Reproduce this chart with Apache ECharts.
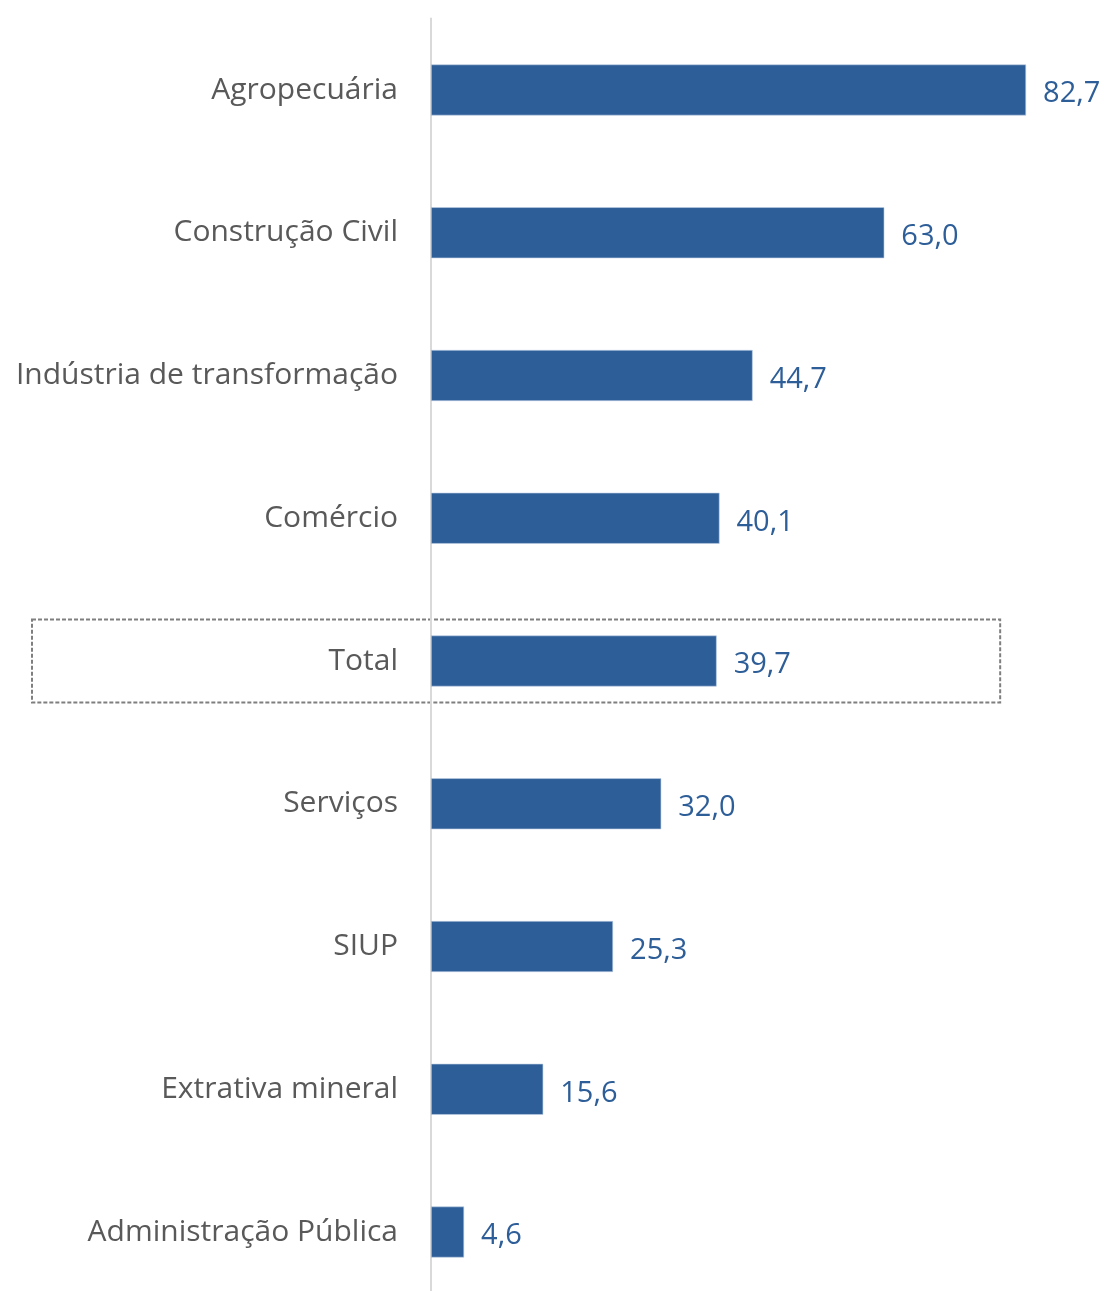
<!DOCTYPE html>
<html>
<head>
<meta charset="utf-8">
<script src="https://cdn.jsdelivr.net/npm/echarts@6/dist/echarts.min.js"></script>
<style>
html,body{margin:0;padding:0;background:#fff;}
#c{width:1104px;height:1291px;}
</style>
</head>
<body>
<div id="c"></div>
<script>
const categories = ["Agropecuária","Construção Civil","Indústria de transformação","Comércio","Total","Serviços","SIUP","Extrativa mineral","Administração Pública"];
const values = [82.7, 63.0, 44.7, 40.1, 39.7, 32.0, 25.3, 15.6, 4.6];
const highlightCategory = "Total";
const highlightRightValue = 79.1;

const FONT = '"Open Sans", "Noto Sans", sans-serif';
const chart = echarts.init(document.getElementById('c'), null, {renderer:'canvas'});
const option = {
  animation:false,
  backgroundColor:'#ffffff',
  grid:{left:431, width:647.6, top:18.6, height:1284.8, containLabel:false, outerBoundsMode:'none'},
  xAxis:{type:'value', min:0, max:90, show:false, splitLine:{show:false}},
  yAxis:{
    type:'category', inverse:true, data:categories,
    axisLine:{show:true, lineStyle:{color:'#D9D9D9', width:2}},
    axisTick:{show:false},
    axisLabel:{color:'#595959', fontFamily:FONT, fontSize:30, margin:33, padding:[6,0,0,0]}
  },
  series:[{
    type:'bar', data:values, barWidth:51,
    itemStyle:{color:'#2E5E98', borderColor:'#BFD0E6', borderWidth:0.6},
    label:{show:true, position:'right', distance:17, color:'#2E5E98', fontFamily:FONT, fontSize:29,
      offset:[0,4],
      formatter:p=>p.value.toFixed(1).replace('.',',')}
  }]
};
chart.setOption(option);
const idx = categories.indexOf(highlightCategory);
const c = chart.convertToPixel({seriesIndex:0}, [highlightRightValue, idx]);
chart.setOption({graphic:[{type:'rect', silent:true,
  shape:{x:32, y:c[1]-41.5, width:c[0]-32, height:83},
  style:{fill:null, stroke:'#7F7F7F', lineWidth:2, lineDash:[4,2]}}]});
</script>
</body>
</html>
